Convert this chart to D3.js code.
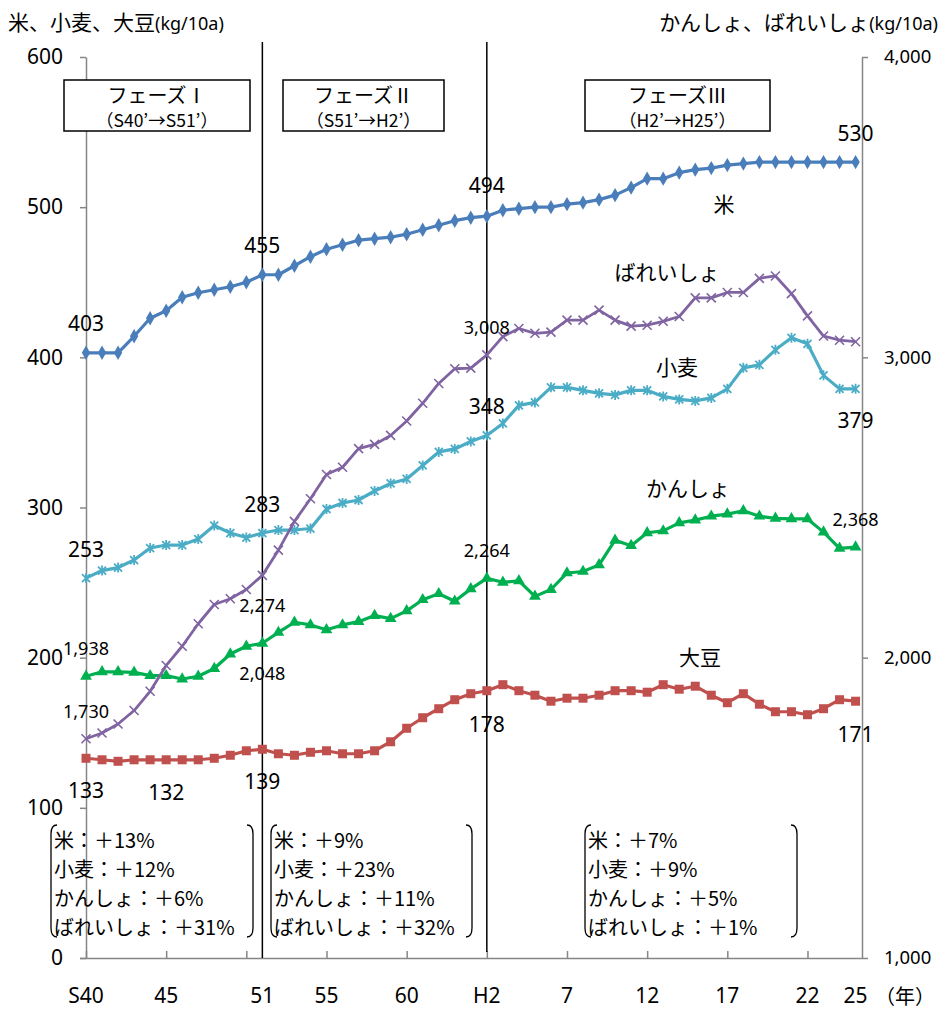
<!DOCTYPE html>
<html>
<head>
<meta charset="utf-8">
<script src="https://cdn.jsdelivr.net/npm/d3@7"></script>
<style>
  body { margin: 0; background: #fff; }
  svg { display: block; font-family: "Noto Sans CJK JP", "Noto Sans", sans-serif; }
</style>
</head>
<body>
<svg id="chart" width="942" height="1013"></svg>
<script>
// years S40 (1965) .. H25 (2013)
var years = ['S40','S41','S42','S43','S44','S45','S46','S47','S48','S49','S50','S51','S52','S53','S54','S55',
  'S56','S57','S58','S59','S60','S61','S62','S63','H1','H2','H3','H4','H5','H6','H7','H8','H9','H10',
  'H11','H12','H13','H14','H15','H16','H17','H18','H19','H20','H21','H22','H23','H24','H25']

// left axis (kg/10a)
var rice = [403,403,403,414,426,431,440,443,445,447,450,455,455,461,467,472,475,478,479,480,482,485,488,491,493,494,
  498,499,500,500,502,503,505,508,513,519,519,523,525,526,528,529,530,530,530,530,530,530,530]
var wheat = [253,258,260,265,273,275,275,279,288,283,280,283,285,285,286,299,303,305,311,316,319,328,337,339,344,348,
  356,368,370,380,380,378,376,375,378,378,374,372,371,373,379,393,395,405,413,409,388,379,379]
var soybean = [133,132,131,132,132,132,132,132,133,135,138,139,136,135,137,138,136,136,138,144,153,160,166,172,176,178,
  182,178,175,171,173,173,175,178,178,177,182,179,181,175,170,176,169,164,164,162,166,172,171]
// right axis (kg/10a)
var sweetPotato = [1938,1953,1953,1951,1940,1940,1929,1938,1964,2012,2038,2048,2084,2118,2109,2093,2109,2120,2140,2130,
  2156,2193,2213,2188,2229,2264,2251,2256,2204,2227,2282,2287,2309,2391,2373,2416,2422,2449,2458,2471,2478,2489,2471,
  2464,2462,2462,2418,2364,2368]
var potato = [1730,1749,1779,1824,1888,1974,2038,2113,2177,2196,2227,2274,2358,2454,2529,2610,2634,2696,2710,2740,2788,
  2847,2913,2962,2964,3008,3069,3096,3080,3084,3124,3124,3157,3124,3104,3107,3120,3136,3198,3198,3216,3216,3263,3271,
  3212,3138,3071,3057,3052]

var xTickLabels = ['S40','45','51','55','60','H2','7','12','17','22','25']
var xTickIdx = [0,5,11,15,20,25,30,35,40,45,48]
var leftTicks = [0,100,200,300,400,500,600]
var rightTicks = [1000,2000,3000,4000]

var phases = [
  {title: 'フェーズⅠ', span: '（S40’→S51’）'},
  {title: 'フェーズⅡ', span: '（S51’→H2’）'},
  {title: 'フェーズⅢ', span: '（H2’→H25’）'}
]
var phaseNotes = [
  ['米：＋13%', '小麦：＋12%', 'かんしょ：＋6%', 'ばれいしょ：＋31%'],
  ['米：＋9%', '小麦：＋23%', 'かんしょ：＋11%', 'ばれいしょ：＋32%'],
  ['米：＋7%', '小麦：＋9%', 'かんしょ：＋5%', 'ばれいしょ：＋1%']
]

var svg = d3.select('#chart')
var x = d3.scaleLinear().domain([0, 48.4]).range([86, 862])
var yL = d3.scaleLinear().domain([0, 600]).range([958, 57])
var yR = d3.scaleLinear().domain([1000, 4000]).range([958, 57])
var fmt = d3.format(',')
var latin = '"Noto Sans", sans-serif'

// axes
var axisColor = '#868686'
var gl = svg.append('g').attr('transform', 'translate(86,0)')
  .call(d3.axisLeft(yL).tickValues(leftTicks).tickSize(6).tickSizeOuter(0).tickPadding(17))
var gr = svg.append('g').attr('transform', 'translate(862,0)')
  .call(d3.axisRight(yR).tickValues(rightTicks).tickFormat(fmt).tickSize(6).tickSizeOuter(0).tickPadding(16))
var gb = svg.append('g').attr('transform', 'translate(0,958)')
  .call(d3.axisBottom(x).tickValues([0,5,10,15,20,25,30,35,40,45]).tickFormat('').tickSize(-7).tickSizeOuter(0))
;[gl, gr, gb].forEach(function(g) {
  g.selectAll('path, line').attr('stroke', axisColor).attr('stroke-width', 1.5)
  g.selectAll('text').attr('fill', '#000').style('font-family', latin)
})
gl.selectAll('text').style('font-size', '21px')
gr.selectAll('text').style('font-size', '18.5px')
gb.select('.domain').attr('d', 'M80,0.5H862')

svg.selectAll('.xlab').data(xTickLabels).enter().append('text')
  .attr('x', function(d, i) { return x(xTickIdx[i]) })
  .attr('y', 1003).attr('text-anchor', 'middle')
  .style('font-size', '21px').style('font-family', latin)
  .text(function(d) { return d })
svg.append('text').attr('x', 905).attr('y', 1004).attr('text-anchor', 'middle')
  .style('font-size', '20px').text('（年）')

// axis titles
var lt = svg.append('text').attr('x', 8).attr('y', 30).style('font-size', '21px')
lt.append('tspan').text('米、小麦、大豆')
lt.append('tspan').style('font-size', '18px').style('font-family', latin).text('(kg/10a)')
var rt = svg.append('text').attr('x', 938).attr('y', 30).attr('text-anchor', 'end').style('font-size', '21px')
rt.append('tspan').text('かんしょ、ばれいしょ')
rt.append('tspan').style('font-size', '18px').style('font-family', latin).text('(kg/10a)')

// phase divider lines
svg.append('line').attr('x1', x(11)).attr('x2', x(11)).attr('y1', 42).attr('y2', 958)
  .attr('stroke', '#000').attr('stroke-width', 1.5)
svg.append('line').attr('x1', x(25)).attr('x2', x(25)).attr('y1', 42).attr('y2', 952)
  .attr('stroke', '#000').attr('stroke-width', 1.5)

// series
var series = [
  {name: 'rice', values: rice, y: yL, color: '#4A7EBB', marker: 'diamond', w: 3.2},
  {name: 'soybean', values: soybean, y: yL, color: '#C0504D', marker: 'square', w: 3.2},
  {name: 'wheat', values: wheat, y: yL, color: '#4BACC6', marker: 'star', w: 3.2},
  {name: 'sweetPotato', values: sweetPotato, y: yR, color: '#00B050', marker: 'triangle', w: 3.2},
  {name: 'potato', values: potato, y: yR, color: '#8064A2', marker: 'x', w: 2.8}
]

series.forEach(function(s) {
  var line = d3.line().x(function(d, i) { return x(i) }).y(function(d) { return s.y(d) })
  svg.append('path').datum(s.values).attr('d', line)
    .attr('fill', 'none').attr('stroke', s.color).attr('stroke-width', s.w).attr('stroke-linejoin', 'round')

  var g = svg.append('g')
  var pts = g.selectAll('g').data(s.values).enter().append('g')
    .attr('transform', function(d, i) { return 'translate(' + x(i) + ',' + s.y(d) + ')' })
  if (s.marker === 'diamond') {
    pts.append('path').attr('d', d3.symbol(d3.symbolDiamond, 60)).attr('fill', s.color)
  } else if (s.marker === 'square') {
    pts.append('rect').attr('x', -4.5).attr('y', -4.5).attr('width', 9).attr('height', 9).attr('fill', s.color)
  } else if (s.marker === 'triangle') {
    pts.append('path').attr('d', d3.symbol(d3.symbolTriangle, 60)).attr('fill', s.color)
  } else if (s.marker === 'star') {
    pts.append('path').attr('d', 'M-4,-4L4,4M-4,4L4,-4M0,-5L0,5')
      .attr('stroke', s.color).attr('stroke-width', 1.8)
  } else {
    pts.append('path').attr('d', 'M-4.5,-4.5L4.5,4.5M-4.5,4.5L4.5,-4.5')
      .attr('stroke', s.color).attr('stroke-width', 1.6)
  }
})

// data labels: [series, index, baseline y, font size]
var valueLabels = [
  [rice, 0, 331, 21], [rice, 11, 253, 21], [rice, 25, 193, 21], [rice, 48, 141, 21],
  [wheat, 0, 557, 21], [wheat, 11, 512, 21], [wheat, 25, 414, 21], [wheat, 48, 428, 21],
  [soybean, 0, 798, 21], [soybean, 5, 800, 21], [soybean, 11, 789, 21], [soybean, 25, 732, 21], [soybean, 48, 742, 21],
  [potato, 0, 718, 18], [potato, 11, 612, 18], [potato, 25, 334, 18],
  [sweetPotato, 0, 655, 18], [sweetPotato, 11, 680, 18], [sweetPotato, 25, 557, 18], [sweetPotato, 48, 526, 18]
]
valueLabels.forEach(function(l) {
  svg.append('text').attr('x', x(l[1])).attr('y', l[2]).attr('text-anchor', 'middle')
    .style('font-size', l[3] + 'px').style('font-family', latin)
    .text(fmt(l[0][l[1]]))
})

// series names
var names = [['米', 724, 212], ['ばれいしょ', 667, 280], ['小麦', 677, 375], ['かんしょ', 688, 496], ['大豆', 700, 665]]
names.forEach(function(n) {
  svg.append('text').attr('x', n[1]).attr('y', n[2]).attr('text-anchor', 'middle')
    .style('font-size', '21px').text(n[0])
})

// phase boxes
var boxes = [[64, 250], [283, 444], [585, 770]]
phases.forEach(function(p, i) {
  var b = boxes[i], cx = (b[0] + b[1]) / 2
  svg.append('rect').attr('x', b[0]).attr('y', 80).attr('width', b[1] - b[0]).attr('height', 51)
    .attr('fill', '#fff').attr('stroke', '#000').attr('stroke-width', 1.5)
  svg.append('text').attr('x', cx).attr('y', 103).attr('text-anchor', 'middle').style('font-size', '20px').text(p.title)
  svg.append('text').attr('x', cx).attr('y', 127).attr('text-anchor', 'middle').style('font-size', '17.5px').text(p.span)
})

// growth notes with brackets
var notes = [[51, 253], [271, 472], [585, 797]]
phaseNotes.forEach(function(lines, i) {
  var l = notes[i][0], r = notes[i][1], t = 825, bt = 937
  svg.append('path').attr('d', 'M' + (l + 6) + ',' + t + 'Q' + l + ',' + t + ' ' + l + ',' + (t + 9) +
    'L' + l + ',' + (bt - 9) + 'Q' + l + ',' + bt + ' ' + (l + 6) + ',' + bt)
    .attr('fill', 'none').attr('stroke', '#000').attr('stroke-width', 1.3)
  svg.append('path').attr('d', 'M' + (r - 6) + ',' + t + 'Q' + r + ',' + t + ' ' + r + ',' + (t + 9) +
    'L' + r + ',' + (bt - 9) + 'Q' + r + ',' + bt + ' ' + (r - 6) + ',' + bt)
    .attr('fill', 'none').attr('stroke', '#000').attr('stroke-width', 1.3)
  lines.forEach(function(s, j) {
    svg.append('text').attr('x', l + 3).attr('y', 848 + j * 29).style('font-size', '20px').text(s)
  })
})
</script>
</body>
</html>
